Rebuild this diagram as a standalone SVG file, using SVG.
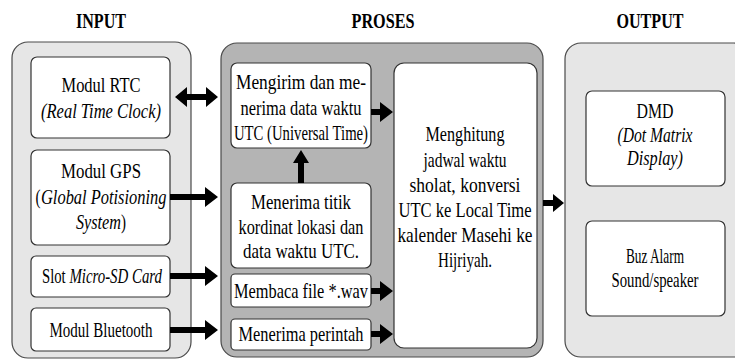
<svg xmlns="http://www.w3.org/2000/svg" width="735" height="360" viewBox="0 0 735 360" font-family="'Liberation Serif', 'Times New Roman', Times, serif">
  <style>
    text { font-family: "Liberation Serif", "Times New Roman", Times, serif; font-size: 22px; fill: #000; text-anchor: middle; }
    .hdr { font-weight: bold; font-size: 21px; }
    .it { font-style: italic; }
    .start { text-anchor: start; }
    .panel-light { fill: #e6e6e6; stroke: #4a4a4a; stroke-width: 1.2; }
    .panel-dark { fill: #b4b4b4; stroke: #4a4a4a; stroke-width: 1.2; }
    .box { fill: #ffffff; stroke: #333; stroke-width: 1.2; }
    .arrow { fill: #000; stroke: none; }
  </style>

  <!-- Column headings -->
  <g id="headings">
    <text class="hdr" x="101" y="28" textLength="50" lengthAdjust="spacingAndGlyphs">INPUT</text>
    <text class="hdr" x="383" y="28" textLength="63" lengthAdjust="spacingAndGlyphs">PROSES</text>
    <text class="hdr" x="650" y="28" textLength="67" lengthAdjust="spacingAndGlyphs">OUTPUT</text>
  </g>

  <!-- Panels -->
  <g id="panel-input"><rect class="panel-light" x="12" y="42" width="179" height="316" rx="16"/></g>
  <g id="panel-proses"><rect class="panel-dark" x="221" y="43" width="322" height="314" rx="16"/></g>
  <g id="panel-output"><rect class="panel-light" x="565" y="43" width="185" height="314" rx="16"/></g>

  <!-- Input nodes -->
  <g id="rtc">
    <rect class="box" x="31" y="57" width="139" height="81" rx="6"/>
    <text x="101" y="92" textLength="79" lengthAdjust="spacingAndGlyphs">Modul RTC</text>
    <text class="it" x="101" y="118" textLength="120" lengthAdjust="spacingAndGlyphs">(Real Time Clock)</text>
  </g>
  <g id="gps">
    <rect class="box" x="31" y="150" width="139" height="95" rx="6"/>
    <text x="101" y="178" textLength="80" lengthAdjust="spacingAndGlyphs">Modul GPS</text>
    <text class="start" x="35.5" y="204" textLength="5" lengthAdjust="spacingAndGlyphs">(</text>
    <text class="it start" x="41" y="204" textLength="125.5" lengthAdjust="spacingAndGlyphs">Global Potisioning</text>
    <text class="it start" x="76" y="229" textLength="45" lengthAdjust="spacingAndGlyphs">System</text>
    <text class="start" x="121" y="229" textLength="5" lengthAdjust="spacingAndGlyphs">)</text>
  </g>
  <g id="sdcard">
    <rect class="box" x="31" y="256" width="139" height="41" rx="5"/>
    <text class="start" x="42" y="283" textLength="23.7" lengthAdjust="spacingAndGlyphs">Slot</text>
    <text class="it start" x="69.4" y="283" textLength="92.6" lengthAdjust="spacingAndGlyphs">Micro-SD Card</text>
  </g>
  <g id="bluetooth">
    <rect class="box" x="31" y="308" width="139" height="43" rx="5"/>
    <text x="101" y="337" textLength="103" lengthAdjust="spacingAndGlyphs">Modul Bluetooth</text>
  </g>

  <!-- Process nodes -->
  <g id="utc-exchange">
    <rect class="box" x="231" y="63" width="140" height="85" rx="6"/>
    <text x="301" y="89" textLength="130" lengthAdjust="spacingAndGlyphs">Mengirim dan me-</text>
    <text x="301" y="115" textLength="121" lengthAdjust="spacingAndGlyphs">nerima data waktu</text>
    <text x="301" y="140" textLength="134" lengthAdjust="spacingAndGlyphs">UTC (Universal Time)</text>
  </g>
  <g id="gps-receive">
    <rect class="box" x="231" y="183" width="140" height="85" rx="6"/>
    <text x="301" y="209" textLength="100" lengthAdjust="spacingAndGlyphs">Menerima titik</text>
    <text x="301" y="234" textLength="125" lengthAdjust="spacingAndGlyphs">kordinat lokasi dan</text>
    <text x="301" y="258" textLength="116" lengthAdjust="spacingAndGlyphs">data waktu UTC.</text>
  </g>
  <g id="wav-read">
    <rect class="box" x="231" y="274" width="140" height="33" rx="4"/>
    <text x="301" y="298" textLength="134" lengthAdjust="spacingAndGlyphs">Membaca file *.wav</text>
  </g>
  <g id="command-receive">
    <rect class="box" x="231" y="319" width="140" height="31" rx="4"/>
    <text x="301" y="341" textLength="125" lengthAdjust="spacingAndGlyphs">Menerima perintah</text>
  </g>
  <g id="compute">
    <rect class="box" x="394" y="63" width="143" height="285" rx="10"/>
    <text x="465" y="141" textLength="79" lengthAdjust="spacingAndGlyphs">Menghitung</text>
    <text x="465" y="167" textLength="83" lengthAdjust="spacingAndGlyphs">jadwal waktu</text>
    <text x="465" y="192" textLength="111" lengthAdjust="spacingAndGlyphs">sholat, konversi</text>
    <text x="465" y="217" textLength="133" lengthAdjust="spacingAndGlyphs">UTC ke Local Time</text>
    <text x="465" y="242" textLength="135" lengthAdjust="spacingAndGlyphs">kalender Masehi ke</text>
    <text x="465" y="267" textLength="54" lengthAdjust="spacingAndGlyphs">Hijriyah.</text>
  </g>

  <!-- Output nodes -->
  <g id="dmd">
    <rect class="box" x="586" y="91" width="139" height="95" rx="6"/>
    <text x="655" y="118" textLength="37" lengthAdjust="spacingAndGlyphs">DMD</text>
    <text class="it" x="655" y="142" textLength="75" lengthAdjust="spacingAndGlyphs">(Dot Matrix</text>
    <text class="it" x="655" y="165" textLength="56" lengthAdjust="spacingAndGlyphs">Display)</text>
  </g>
  <g id="buzzer">
    <rect class="box" x="586" y="221" width="139" height="95" rx="6"/>
    <text x="655" y="263" textLength="58" lengthAdjust="spacingAndGlyphs">Buz Alarm</text>
    <text x="655" y="287" textLength="87" lengthAdjust="spacingAndGlyphs">Sound/speaker</text>
  </g>

  <!-- Connectors: block arrows -->
  <g id="connectors">
    <!-- RTC <-> UTC exchange (two-way) -->
    <path class="arrow" d="M175,97 L187,87 V94 H206 V87 L218,97 L206,107 V100 H187 V107 Z"/>
    <!-- GPS -> process panel -->
    <path class="arrow" d="M170,194 H205 V187 L218,197 L205,207 V200 H170 Z"/>
    <!-- SD card -> process panel -->
    <path class="arrow" d="M170,273 H205 V266 L218,276 L205,286 V279 H170 Z"/>
    <!-- Bluetooth -> process panel -->
    <path class="arrow" d="M170,327 H205 V320 L218,330 L205,340 V333 H170 Z"/>
    <!-- GPS receive -> UTC exchange (upward) -->
    <path class="arrow" d="M298,183 V163 H293 L301,150 L309,163 H304 V183 Z"/>
    <!-- UTC exchange -> compute -->
    <path class="arrow" d="M371,109 H380 V102 L393,112 L380,122 V115 H371 Z"/>
    <!-- wav read -> compute -->
    <path class="arrow" d="M371,288 H380 V281 L393,291 L380,301 V294 H371 Z"/>
    <!-- command receive -> compute -->
    <path class="arrow" d="M371,331 H380 V324 L393,334 L380,344 V337 H371 Z"/>
    <!-- process panel -> output panel -->
    <path class="arrow" d="M543,200 H553 V194 L564,203 L553,212 V206 H543 Z"/>
  </g>
</svg>
